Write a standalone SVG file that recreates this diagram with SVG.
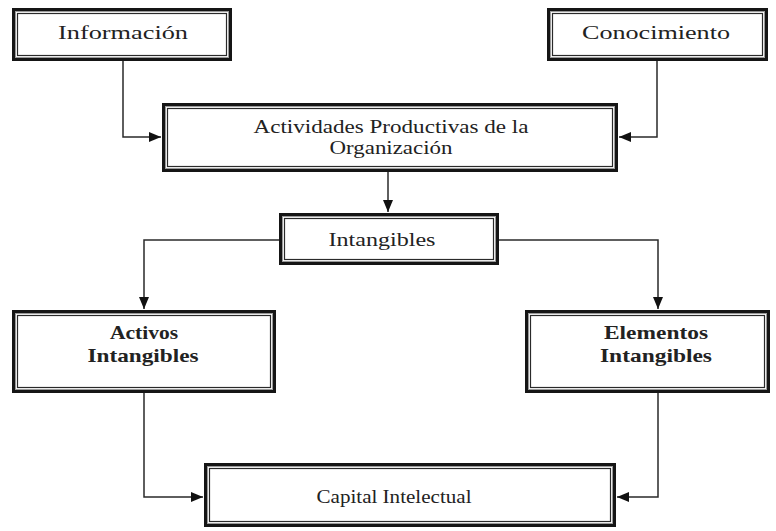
<svg xmlns="http://www.w3.org/2000/svg" width="776" height="531" viewBox="0 0 776 531">
<style>
.bg{fill:#fff}
.o{fill:#fff;stroke:#151515;stroke-width:3}
.m{fill:none;stroke:#9a9a9a;stroke-width:1}
.i{fill:none;stroke:#2a2a2a;stroke-width:1.2}
.t{font-family:"Liberation Serif",serif;font-size:18px;fill:#222;text-anchor:middle}
.b{font-family:"Liberation Serif",serif;font-size:19px;font-weight:bold;fill:#222;text-anchor:middle}
.c{fill:none;stroke:#2a2a2a;stroke-width:1.5}
</style>
<defs>
<marker id="ah" viewBox="0 0 12 10" refX="12" refY="5" markerWidth="12" markerHeight="10" markerUnits="userSpaceOnUse" orient="auto">
<path d="M0,0 L12,5 L0,10 Z" fill="#111"/>
</marker>
</defs>
<rect class="bg" width="776" height="531"/>
<g id="connectors">
<path class="c" d="M123 61 V137 H161" marker-end="url(#ah)"/>
<path class="c" d="M657 61 V137 H619" marker-end="url(#ah)"/>
<path class="c" d="M388 172 V212" marker-end="url(#ah)"/>
<path class="c" d="M279 240 H144 V309" marker-end="url(#ah)"/>
<path class="c" d="M499 240 H658 V309" marker-end="url(#ah)"/>
<path class="c" d="M144 393 V497 H203" marker-end="url(#ah)"/>
<path class="c" d="M658 393 V497 H617" marker-end="url(#ah)"/>
</g>
<g id="informacion">
<rect class="o" x="13.5" y="9.5" width="217" height="50"/>
<rect class="m" x="15.5" y="11.5" width="213" height="46"/>
<rect class="i" x="17.5" y="13.5" width="209" height="42"/>
<text class="t" x="123" y="39" textLength="130" lengthAdjust="spacingAndGlyphs">Información</text>
</g>
<g id="conocimiento">
<rect class="o" x="548.5" y="9.5" width="218" height="50"/>
<rect class="m" x="550.5" y="11.5" width="214" height="46"/>
<rect class="i" x="552.5" y="13.5" width="210" height="42"/>
<text class="t" x="656" y="39" textLength="148" lengthAdjust="spacingAndGlyphs">Conocimiento</text>
</g>
<g id="actividades">
<rect class="o" x="163.5" y="104.5" width="453" height="66"/>
<rect class="m" x="165.5" y="106.5" width="449" height="62"/>
<rect class="i" x="167.5" y="108.5" width="445" height="58"/>
<text class="t" x="391" y="133" textLength="275" lengthAdjust="spacingAndGlyphs">Actividades Productivas de la</text>
<text class="t" x="391" y="154" textLength="123" lengthAdjust="spacingAndGlyphs">Organización</text>
</g>
<g id="intangibles">
<rect class="o" x="280.5" y="214.5" width="217" height="49"/>
<rect class="m" x="282.5" y="216.5" width="213" height="45"/>
<rect class="i" x="284.5" y="218.5" width="209" height="41"/>
<text class="t" x="382" y="246" textLength="107" lengthAdjust="spacingAndGlyphs">Intangibles</text>
</g>
<g id="activos">
<rect class="o" x="13.5" y="311.5" width="261" height="80"/>
<rect class="m" x="15.5" y="313.5" width="257" height="76"/>
<rect class="i" x="17.5" y="315.5" width="253" height="72"/>
<text class="b" x="144" y="339" textLength="68" lengthAdjust="spacingAndGlyphs">Activos</text>
<text class="b" x="143" y="362" textLength="111" lengthAdjust="spacingAndGlyphs">Intangibles</text>
</g>
<g id="elementos">
<rect class="o" x="526.5" y="311.5" width="242" height="80"/>
<rect class="m" x="528.5" y="313.5" width="238" height="76"/>
<rect class="i" x="530.5" y="315.5" width="234" height="72"/>
<text class="b" x="656" y="339" textLength="104" lengthAdjust="spacingAndGlyphs">Elementos</text>
<text class="b" x="656" y="362" textLength="112" lengthAdjust="spacingAndGlyphs">Intangibles</text>
</g>
<g id="capital">
<rect class="o" x="205.5" y="464.5" width="409" height="61"/>
<rect class="m" x="207.5" y="466.5" width="405" height="57"/>
<rect class="i" x="209.5" y="468.5" width="401" height="53"/>
<text class="t" x="394" y="503" textLength="155" lengthAdjust="spacingAndGlyphs">Capital Intelectual</text>
</g>
</svg>
